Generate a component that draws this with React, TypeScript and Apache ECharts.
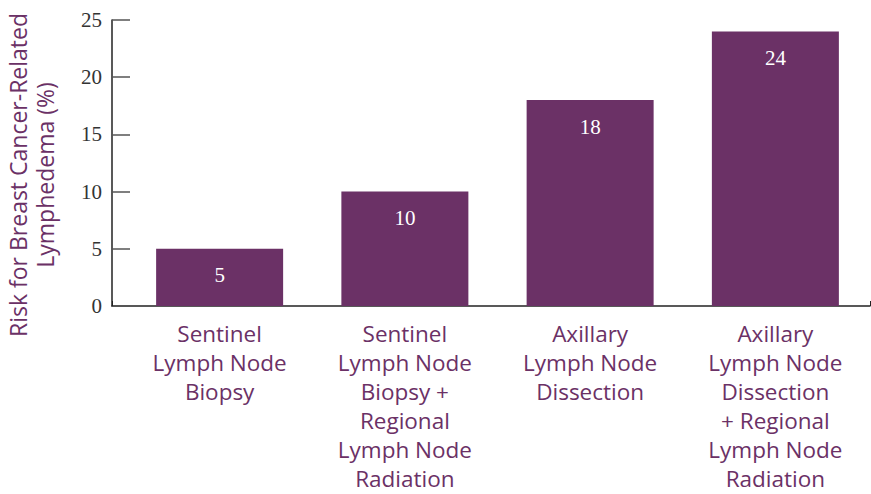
import React, { useEffect, useRef } from "react";
import * as echarts from "echarts";

const categories = [
  "Sentinel\nLymph Node\nBiopsy",
  "Sentinel\nLymph Node\nBiopsy +\nRegional\nLymph Node\nRadiation",
  "Axillary\nLymph Node\nDissection",
  "Axillary\nLymph Node\nDissection\n+ Regional\nLymph Node\nRadiation",
];
const values = [5, 10, 18, 24];
const yTitleLines = ["Risk for Breast Cancer-Related", "Lymphedema (%)"];

const PURPLE = "#6b3166";
const SANS = "'Open Sans'";

export default function App() {
  const ref = useRef<HTMLDivElement>(null);
  useEffect(() => {
    if (!ref.current) return;
    const chart = echarts.init(ref.current, undefined, { renderer: "svg" });
    chart.setOption({
      animation: false,
      grid: [
        { left: 127, right: 3, top: 20, bottom: 188, outerBoundsMode: "none", containLabel: false },
        { left: 112, right: 1, top: 20, bottom: 188, outerBoundsMode: "none", containLabel: false },
      ],
      xAxis: [
        {
          type: "category",
          gridIndex: 0,
          data: categories,
          axisLine: { show: false },
          axisTick: { show: false },
          axisLabel: {
            color: PURPLE,
            fontFamily: SANS,
            fontSize: 22.5,
            lineHeight: 29,
            margin: 13,
            interval: 0,
            verticalAlign: "top",
          },
        },
        {
          type: "value",
          gridIndex: 1,
          min: 0,
          max: 1,
          interval: 1,
          axisLine: { show: true, lineStyle: { color: "#222", width: 1.5 } },
          axisTick: { show: true, inside: true, length: 5, lineStyle: { color: "#222" } },
          axisLabel: { show: false },
          splitLine: { show: false },
        },
      ],
      yAxis: [
        {
          type: "value",
          gridIndex: 0,
          min: 0,
          max: 25,
          interval: 5,
          offset: 15,
          axisLine: { show: true, lineStyle: { color: "#222", width: 1.5 } },
          axisTick: { show: true, inside: true, length: 18, lineStyle: { color: "#555", width: 1.5 } },
          axisLabel: {
            color: "#333",
            fontFamily: "Liberation Serif",
            fontSize: 21,
            margin: 10,
          },
          splitLine: { show: false },
        },
        {
          type: "value",
          gridIndex: 1,
          show: false,
          min: 0,
          max: 1,
        },
      ],
      series: [
        {
          type: "bar",
          xAxisIndex: 0,
          yAxisIndex: 0,
          data: values,
          barWidth: 127,
          itemStyle: { color: PURPLE },
          label: {
            show: true,
            position: "insideTop",
            distance: 16,
            color: "#fff",
            fontFamily: "Liberation Serif",
            fontSize: 21,
          },
        },
      ],
      graphic: [
        {
          type: "text",
          x: 31,
          y: 175,
          rotation: Math.PI / 2,
          style: {
            text: yTitleLines.join("\n"),
            fill: PURPLE,
            font: "23px 'Open Sans'",
            lineHeight: 27,
            align: "center",
            verticalAlign: "middle",
          },
        },
      ],
    });
    return () => chart.dispose();
  }, []);
  return (
    <div
      ref={ref}
      style={{ position: "absolute", left: 0, top: 0, width: 871, height: 494 }}
    />
  );
}
